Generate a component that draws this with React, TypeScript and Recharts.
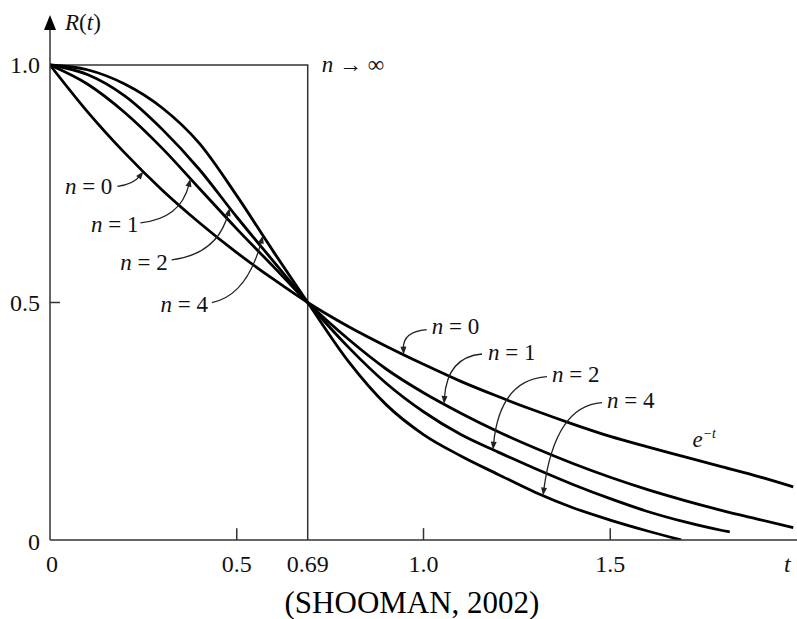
import React from "react";
import { LineChart, Line, XAxis, YAxis, ReferenceLine, ReferenceDot } from "recharts";

// normalized time t and R(t) for each standby count n
const tN0 = [0, 0.1, 0.2, 0.3, 0.4, 0.5, 0.6, 0.69, 0.8, 0.9, 1.0, 1.1, 1.2, 1.3, 1.4, 1.5, 1.6, 1.7, 1.8, 1.9, 1.99];
const rN0 = [1.0, 0.902, 0.815, 0.737, 0.668, 0.605, 0.548, 0.5, 0.449, 0.408, 0.37, 0.334, 0.302, 0.272, 0.244, 0.218, 0.196, 0.175, 0.154, 0.133, 0.112];
const tN1 = [0, 0.1, 0.2, 0.3, 0.4, 0.5, 0.6, 0.69, 0.8, 0.9, 1.0, 1.1, 1.2, 1.3, 1.4, 1.5, 1.6, 1.7, 1.8, 1.9, 1.99];
const rN1 = [1.0, 0.96, 0.9, 0.825, 0.74, 0.655, 0.574, 0.5, 0.422, 0.36, 0.31, 0.267, 0.228, 0.193, 0.161, 0.132, 0.106, 0.083, 0.062, 0.043, 0.026];
const tN2 = [0, 0.1, 0.2, 0.3, 0.4, 0.5, 0.6, 0.69, 0.8, 0.9, 1.0, 1.1, 1.2, 1.3, 1.4, 1.5, 1.6, 1.7, 1.8, 1.82];
const rN2 = [1.0, 0.98, 0.935, 0.865, 0.78, 0.68, 0.585, 0.5, 0.405, 0.33, 0.27, 0.222, 0.185, 0.15, 0.117, 0.087, 0.06, 0.038, 0.02, 0.017];
const tN4 = [0, 0.1, 0.2, 0.3, 0.4, 0.5, 0.6, 0.69, 0.8, 0.9, 1.0, 1.1, 1.2, 1.3, 1.4, 1.5, 1.6, 1.69];
const rN4 = [1.0, 0.99, 0.96, 0.91, 0.835, 0.725, 0.605, 0.5, 0.375, 0.285, 0.222, 0.177, 0.138, 0.1, 0.068, 0.042, 0.019, 0];
// n -> infinity: ideal step at the median
const tInf = [0, 0.69, 0.69];
const rInf = [1, 1, 0];

const xTicks = [0, 0.5, 0.69, 1.0, 1.5];
const xTickLabels = ["0", "0.5", "0.69", "1.0", "1.5"];
const yTicks = [0, 0.5, 1.0];
const yTickLabels = ["0", "0.5", "1.0"];

const INK = "#000";
const AXIS = "#333";
const FONT = "'Liberation Serif', 'DejaVu Serif', serif";

const pairs = (ts: number[], rs: number[]) => ts.map((t, i) => ({ t, r: rs[i] }));

// linear lookup on a curve, used to sit arrow tips on the lines
const valueAt = (ts: number[], rs: number[], t: number) => {
  for (let i = 1; i < ts.length; i++) {
    if (t <= ts[i]) {
      const f = (t - ts[i - 1]) / (ts[i] - ts[i - 1]);
      return rs[i - 1] + f * (rs[i] - rs[i - 1]);
    }
  }
  return rs[rs.length - 1];
};

type Note = {
  label: string;
  ts: number[];
  rs: number[];
  t: number;
  anchor: "start" | "end";
  text: [number, number];
  from: [number, number];
  ctrl: [number, number];
};

// pixel offsets are relative to the arrow tip
const notes: Note[] = [
  { label: "0", ts: tN0, rs: rN0, t: 0.25, anchor: "end", text: [-31, 23], from: [-26, 15], ctrl: [-10, 13] },
  { label: "1", ts: tN1, rs: rN1, t: 0.376, anchor: "end", text: [-52, 53], from: [-50, 44], ctrl: [-10, 40] },
  { label: "2", ts: tN2, rs: rN2, t: 0.481, anchor: "end", text: [-62, 62], from: [-58, 52], ctrl: [-12, 46] },
  { label: "4", ts: tN4, rs: rN4, t: 0.57, anchor: "end", text: [-55, 76], from: [-51, 67], ctrl: [-16, 60] },
  { label: "0", ts: tN0, rs: rN0, t: 0.947, anchor: "start", text: [28, -21], from: [23, -25], ctrl: [-1, -23] },
  { label: "1", ts: tN1, rs: rN1, t: 1.055, anchor: "start", text: [44, -44], from: [38, -50], ctrl: [3, -47] },
  { label: "2", ts: tN2, rs: rN2, t: 1.186, anchor: "start", text: [59, -68], from: [54, -73], ctrl: [7, -70] },
  { label: "4", ts: tN4, rs: rN4, t: 1.32, anchor: "start", text: [64, -88], from: [59, -93], ctrl: [12, -90] },
];

function ArrowNote({ cx, cy, note }: { cx: number; cy: number; note: Note }) {
  const sx = cx + note.from[0];
  const sy = cy + note.from[1];
  const qx = cx + note.ctrl[0];
  const qy = cy + note.ctrl[1];
  const len = Math.hypot(cx - qx, cy - qy) || 1;
  const dx = (cx - qx) / len;
  const dy = (cy - qy) / len;
  const L = 8;
  const w = 3;
  const bx = cx - dx * L;
  const by = cy - dy * L;
  const head = `${cx},${cy} ${bx - dy * w},${by + dx * w} ${bx + dy * w},${by - dx * w}`;
  return (
    <g>
      <path d={`M${sx},${sy} Q${qx},${qy} ${bx + dx * 2},${by + dy * 2}`} fill="none" stroke="#222" strokeWidth={1.3} />
      <polygon points={head} fill="#222" />
      <text x={cx + note.text[0]} y={cy + note.text[1]} textAnchor={note.anchor} fontFamily={FONT} fontSize={23} fill="#111">
        <tspan fontStyle="italic">n</tspan>
        {" = " + note.label}
      </text>
    </g>
  );
}

function XTick(props: any) {
  const { x, payload } = props;
  const label = xTickLabels[xTicks.indexOf(payload.value)];
  return (
    <text x={x + (payload.value === 0 ? 2 : 0)} y={572} textAnchor="middle" fontFamily={FONT} fontSize={24} fill="#111">
      {label}
    </text>
  );
}

function YTick(props: any) {
  const { y, payload } = props;
  const label = yTickLabels[yTicks.indexOf(payload.value)];
  return (
    <text x={40} y={y + 8 + (payload.value === 0 ? 2 : 0)} textAnchor="end" fontFamily={FONT} fontSize={24} fill="#111">
      {label}
    </text>
  );
}

const lineProps = {
  dataKey: "r",
  type: "monotone" as const,
  stroke: INK,
  strokeWidth: 2.8,
  dot: false,
  activeDot: false,
  isAnimationActive: false,
};

export default function App() {
  return (
    <div style={{ position: "absolute", left: 0, top: 0, background: "#fff" }}>
      <LineChart width={797} height={619} margin={{ top: 17.5, right: 0, bottom: 49, left: 0 }}>
        <XAxis
          type="number"
          dataKey="t"
          domain={[0, 2]}
          ticks={xTicks}
          interval={0}
          height={30}
          allowDataOverflow
          tickLine={false}
          axisLine={{ stroke: AXIS, strokeWidth: 1.5 }}
          tick={(p: any) => <XTick {...p} />}
          label={{
            content: () => (
              <g>
                <text x={784} y={572} fontFamily={FONT} fontSize={24} fontStyle="italic" fill="#111">
                  t
                </text>
                <text x={412} y={613} textAnchor="middle" fontFamily={FONT} fontSize={31} fill="#000">
                  (SHOOMAN, 2002)
                </text>
              </g>
            ),
          }}
        />
        <YAxis
          type="number"
          dataKey="r"
          domain={[0, 1.1]}
          ticks={yTicks}
          interval={0}
          width={50}
          allowDataOverflow
          tickLine={false}
          axisLine={{ stroke: AXIS, strokeWidth: 1.5 }}
          tick={(p: any) => <YTick {...p} />}
        />

        {/* inward tick marks */}
        {[0.5, 1.0, 1.5].map((v) => (
          <ReferenceLine key={v} segment={[{ x: v, y: 0 }, { x: v, y: 0.025 }]} stroke={AXIS} strokeWidth={1.5} />
        ))}
        <ReferenceLine segment={[{ x: 0, y: 0.5 }, { x: 0.027, y: 0.5 }]} stroke={AXIS} strokeWidth={1.5} />

        <Line {...lineProps} data={pairs(tInf, rInf)} type="linear" stroke={AXIS} strokeWidth={1.5} />
        <Line {...lineProps} data={pairs(tN0, rN0)} />
        <Line {...lineProps} data={pairs(tN1, rN1)} />
        <Line {...lineProps} data={pairs(tN2, rN2)} />
        <Line {...lineProps} data={pairs(tN4, rN4)} />

        {/* axis arrow head and R(t) title */}
        <ReferenceDot
          x={0}
          y={1.1}
          r={0}
          ifOverflow="visible"
          shape={(p: any) => (
            <g>
              <polygon points={`${p.cx},${p.cy - 2.5} ${p.cx - 6},${p.cy + 12.5} ${p.cx + 6},${p.cy + 12.5}`} fill="#000" />
              <text x={p.cx + 15} y={p.cy + 12.5} fontFamily={FONT} fontSize={23} fill="#111">
                <tspan fontStyle="italic">R</tspan>(<tspan fontStyle="italic">t</tspan>)
              </text>
            </g>
          )}
        />

        <ReferenceDot
          x={0.69}
          y={1}
          r={0}
          ifOverflow="visible"
          shape={(p: any) => (
            <text x={p.cx + 14} y={p.cy + 7} fontFamily={FONT} fontSize={23} fill="#111">
              <tspan fontStyle="italic">n</tspan>
              {" → ∞"}
            </text>
          )}
        />

        <ReferenceDot
          x={1.72}
          y={valueAt(tN0, rN0, 1.72)}
          r={0}
          ifOverflow="visible"
          shape={(p: any) => (
            <text x={p.cx} y={p.cy - 12} fontFamily={FONT} fontSize={23} fontStyle="italic" fill="#111">
              e
              <tspan dy={-9} fontSize={14}>
                −t
              </tspan>
            </text>
          )}
        />

        {notes.map((n, i) => (
          <ReferenceDot
            key={i}
            x={n.t}
            y={valueAt(n.ts, n.rs, n.t)}
            r={0}
            ifOverflow="visible"
            shape={(p: any) => <ArrowNote cx={p.cx} cy={p.cy} note={n} />}
          />
        ))}
      </LineChart>
    </div>
  );
}
